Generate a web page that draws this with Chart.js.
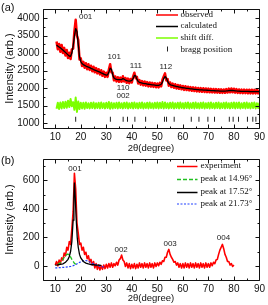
<!DOCTYPE html>
<html>
<head>
<meta charset="utf-8">
<script src="https://cdn.jsdelivr.net/npm/chart.js@4.4.0/dist/chart.umd.min.js"></script>
<style>
html, body { margin: 0; padding: 0; background: #fff; }
#wrap { position: relative; width: 268px; height: 305px; overflow: hidden; }
#chartA { position: absolute; left: 0; top: 0; }
#chartB { position: absolute; left: 0; top: 150px; }
</style>
</head>
<body>
<div id="wrap">
  <canvas id="chartA" width="268" height="156"></canvas>
  <canvas id="chartB" width="268" height="155"></canvas>
</div>
<script>
// ---- panel (a) : refinement ----
const angA = [10.5,11,11.5,12,12.5,13,13.5,14,14.5,15,15.5,16,16.5,17,17.5,18,18.5,19,19.5,20,
  20.5,21,21.5,22,22.5,23,23.5,24,24.5,25,25.5,26,26.5,27,27.5,28,28.5,29,29.5,30,
  30.5,31,31.5,32,32.5,33,33.5,34,34.5,35,35.5,36,36.5,37,37.5,38,38.5,39,39.5,40,
  40.5,41,41.5,42,42.5,43,43.5,44,44.5,45,45.5,46,46.5,47,47.5,48,48.5,49,49.5,50,
  50.5,51,51.5,52,52.5,53,53.5,54,54.5,55,55.5,56,56.5,57,57.5,58,58.5,59,59.5,60,
  60.5,61,61.5,62,62.5,63,63.5,64,64.5,65,65.5,66,66.5,67,67.5,68,68.5,69,69.5,70,
  70.5,71,71.5,72,72.5,73,73.5,74,74.5,75,75.5,76,76.5,77,77.5,78,78.5,79,79.5,80,
  80.5,81,81.5,82,82.5,83,83.5,84,84.5,85,85.5,86,86.5,87,87.5,88,88.5,89,89.5,90];

const observedA = [3330,3110,3260,3040,3230,3000,3150,2930,3090,2860,3010,2830,
  3110,3130,3620,3950,3500,3380,2820,2850,
  2630,2750,2580,2710,2540,2680,2520,2640,2480,2610,2450,2570,2420,2540,2390,2510,2350,2470,2320,2440,
  2320,2530,2680,2450,2440,2220,2330,2190,2310,2180,2300,2180,2340,2190,2290,2150,2270,2140,2260,2160,
  2330,2440,2280,2320,2130,2230,2100,2200,2080,2190,2070,2170,2050,2160,2045,2150,2035,2140,2025,2130,
  2020,2150,2050,2240,2330,2420,2220,2260,2070,2160,2030,2130,2010,2110,1990,2090,1980,2080,1965,2060,
  1950,2055,1945,2040,1935,2030,1925,2020,1915,2015,1905,2005,1900,2000,1895,1995,1890,1990,1885,1985,
  1880,1980,1878,1975,1872,1972,1870,1968,1866,1965,1862,1962,1865,1970,1872,1985,1880,1990,1880,1982,
  1870,1970,1862,1962,1860,1958,1856,1958,1855,1955,1852,1955,1850,1952,1850,1950,1848,1952,1850,1950];

const calculatedA = [3230,3200,3175,3150,3120,3090,3055,3020,2985,2950,2915,2910,
  3000,3200,3480,3700,3620,3250,2900,2760,
  2700,2670,2650,2630,2615,2600,2585,2565,2550,2530,2515,2500,2485,2470,2455,2435,2420,2400,2385,2370,
  2380,2450,2570,2540,2380,2290,2265,2250,2245,2240,2240,2245,2270,2255,2230,2215,2205,2200,2205,2220,
  2270,2360,2350,2250,2190,2165,2155,2145,2135,2130,2125,2115,2110,2105,2100,2095,2090,2085,2080,2075,
  2080,2090,2110,2170,2270,2330,2290,2200,2130,2100,2085,2075,2065,2055,2045,2040,2030,2025,2015,2010,
  2005,2000,1995,1990,1985,1980,1975,1970,1965,1962,1958,1955,1952,1950,1948,1945,1942,1940,1938,1935,
  1933,1930,1928,1926,1924,1922,1920,1918,1916,1915,1914,1913,1915,1918,1922,1928,1932,1935,1932,1928,
  1922,1918,1915,1912,1910,1909,1908,1907,1906,1905,1904,1903,1902,1901,1900,1900,1900,1900,1900,1900];

const shiftDiffA = [1410,1580,1400,1590,1420,1600,1430,1610,1440,1640,1460,1690,
  1480,1600,1380,1730,1320,1620,1400,1580,
  1420,1580,1410,1590,1430,1570,1420,1580,1430,1590,1420,1570,1430,1580,1420,1590,1430,1570,1420,1580,
  1430,1600,1410,1580,1420,1570,1430,1580,1420,1590,1430,1570,1420,1580,1430,1590,1420,1570,1430,1580,
  1420,1590,1430,1570,1420,1580,1430,1590,1420,1570,1430,1580,1420,1590,1430,1570,1420,1580,1430,1590,
  1420,1580,1430,1600,1420,1590,1430,1570,1420,1580,1430,1590,1420,1570,1430,1580,1420,1590,1430,1570,
  1420,1580,1430,1590,1420,1570,1430,1580,1420,1590,1430,1570,1420,1580,1430,1590,1420,1570,1430,1580,
  1420,1590,1430,1570,1420,1580,1430,1590,1420,1570,1430,1580,1420,1590,1430,1570,1420,1580,1430,1590,
  1420,1580,1430,1590,1420,1570,1430,1580,1420,1590,1430,1570,1420,1580,1430,1590,1420,1570,1430,1580];

const braggA = [18.0,31.6,36.6,38.3,41.2,45.4,52.8,53.6,56.6,63.3,66.3,69.8,72.4,78.2,79.7,81.8,85.3,87.4,88.6];
const braggLevel = 1110;

const peakTextA = ["001","101","110","002","111","112"];
const peakAngA  = [21.9, 33.1, 36.6, 36.6, 41.6, 53.3];
const peakIntA  = [4045, 2900, 2020, 1780, 2635, 2615];

const legendA = ["observed", "calculated", "shift diff.", "bragg position"];
const yTicksA = [1000,1500,2000,2500,3000,3500,4000];
const yMinorA = [1250,1750,2250,2750,3250,3750,4250];

// ---- panel (b) : peak fitting ----
const angB = [10,10.5,11,11.5,12,12.5,13,13.5,14,14.5,15,
  15.5,16,16.5,17,17.5,18,18.5,19,19.5,20,
  20.5,21,21.5,22,22.5,23,23.5,24,24.5,25,
  25.5,26,26.5,27,27.5,28,28.5,29,29.5,30,
  30.5,31,31.5,32,32.5,33,33.5,34,34.5,35,
  35.5,36,36.5,37,37.5,38,38.5,39,39.5,40,
  40.5,41,41.5,42,42.5,43,43.5,44,44.5,45,
  45.5,46,46.5,47,47.5,48,48.5,49,49.5,50,
  50.5,51,51.5,52,52.5,53,53.5,54,54.5,55,
  55.5,56,56.5,57,57.5,58,58.5,59,59.5,60,
  60.5,61,61.5,62,62.5,63,63.5,64,64.5,65,
  65.5,66,66.5,67,67.5,68,68.5,69,69.5,70,
  70.5,71,71.5,72,72.5,73,73.5,74,74.5,75,
  75.5,76,76.5,77,77.5,78,78.5,79,79.5,80];

const experimentB = [5,30,0,40,15,55,40,90,70,130,110,
  170,150,260,380,650,540,300,230,150,160,
  110,130,80,95,50,70,25,45,5,30,
  -15,15,-25,5,-30,0,-25,5,-20,10,
  -15,15,-10,20,-10,15,0,25,5,40,
  50,75,40,30,-5,20,-15,15,-20,10,
  -15,15,-20,10,-15,20,-10,15,-15,20,
  -10,15,-15,20,-10,15,-15,20,-5,20,
  0,25,10,35,30,60,60,95,115,80,
  60,45,25,30,5,20,-10,15,-15,15,
  -15,20,-10,15,-15,20,-10,15,-15,20,
  -10,15,-15,20,-10,15,-15,20,-10,15,
  -10,20,0,25,15,40,45,80,110,130,
  150,120,80,60,30,30,5,15,-5,5];

const peak1Ang = [11,12,13,14,14.5,14.96,15.5,16,16.5,17,17.5,18,18.5];
const peak1Val = [8,22,45,70,79,82,76,62,45,30,18,10,5];
const peak2Ang = [10,11,12,13,14,15,15.5,16,16.5,17,17.3,17.52,17.8,18.2,18.6,19,19.5,20,21,22,23,24,25,26,27,28];
const peak2Val = [4,6,9,14,24,45,65,100,170,320,480,585,490,330,200,130,80,55,30,19,13,9,7,5,4,3];
const peak3Ang = [10,12,14,16,17,18,19,20,21,21.73,22.5,23.5,24.5,25.5,26.5,27.5,28.5,29.5];
const peak3Val = [-15,-13,-10,-5,0,8,18,28,35,37,35,27,18,10,3,-3,-7,-10];

const peakTextB = ["001","002","003","004"];
const peakAngB  = [17.7, 35.8, 55.0, 75.9];
const peakIntB  = [681, 112, 156, 194];

const legendB = ["experiment", "peak at 14.96\u00b0", "peak at 17.52\u00b0", "peak at 21.73\u00b0"];
const yTicksB = [0,200,400,600];
const yMinorB = [-100,100,300,500,700];

const xTicks = [10,20,30,40,50,60,70,80,90];
const xMinor = [5,15,25,35,45,55,65,75,85];

const SANS = "'Liberation Sans', Arial, sans-serif";
const SERIF = "'Liberation Serif', 'Times New Roman', serif";
const GREEN_FIT = '#20c020';

function pts(xs, ys) { return xs.map((x, i) => ({ x: x, y: ys[i] })); }

// frame, inward ticks on all four sides, panel tag
const framePlugin = {
  id: 'frameTicks',
  afterDraw(chart, args, o) {
    const ctx = chart.ctx, a = chart.chartArea;
    const sx = chart.scales.x, sy = chart.scales.y;
    ctx.save();
    ctx.strokeStyle = '#111';
    ctx.lineWidth = 1;
    ctx.beginPath();
    const L = Math.round(a.left) + 0.5, R = Math.round(a.right) + 0.5;
    const T = Math.round(a.top) + 0.5, B = Math.round(a.bottom) + 0.5;
    ctx.rect(L, T, R - L, B - T);
    function vt(v, len) {
      const p = Math.round(sx.getPixelForValue(v)) + 0.5;
      ctx.moveTo(p, B); ctx.lineTo(p, B - len);
      ctx.moveTo(p, T); ctx.lineTo(p, T + len);
    }
    function ht(v, len) {
      const p = Math.round(sy.getPixelForValue(v)) + 0.5;
      if (p < T || p > B) return;
      ctx.moveTo(L, p); ctx.lineTo(L + len, p);
      ctx.moveTo(R, p); ctx.lineTo(R - len, p);
    }
    o.xMajor.forEach(v => vt(v, 4));
    o.xMinor.forEach(v => vt(v, 2));
    o.yMajor.forEach(v => ht(v, 4));
    o.yMinor.forEach(v => ht(v, 2));
    ctx.stroke();
    ctx.fillStyle = '#111';
    ctx.font = '11px ' + SANS;
    ctx.textBaseline = 'middle';
    ctx.fillText(o.tag, o.tagX, o.tagY);
    ctx.restore();
  }
};

// peak index labels placed in data coordinates
const peakLabelPlugin = {
  id: 'peakLabels',
  afterDraw(chart, args, o) {
    const ctx = chart.ctx;
    ctx.save();
    ctx.fillStyle = '#222';
    ctx.font = '8px ' + SANS;
    ctx.textAlign = 'center';
    ctx.textBaseline = 'middle';
    o.text.forEach((t, i) => {
      ctx.fillText(t, chart.scales.x.getPixelForValue(o.ang[i]), chart.scales.y.getPixelForValue(o.val[i]));
    });
    ctx.restore();
  }
};

const boxLegendPlugin = {
  id: 'boxLegend',
  afterDraw(chart, args, o) {
    const ctx = chart.ctx;
    ctx.save();
    ctx.font = '9px ' + SERIF;
    ctx.textBaseline = 'middle';
    o.items.forEach((it, i) => {
      const y = o.rows[i];
      ctx.strokeStyle = it.color;
      ctx.lineWidth = it.width;
      ctx.setLineDash(it.dash || []);
      ctx.beginPath();
      if (it.tick) {
        ctx.moveTo(o.tickX, y - 3); ctx.lineTo(o.tickX, y + 2);
      } else {
        ctx.moveTo(o.x0, y + 0.5); ctx.lineTo(o.x1, y + 0.5);
      }
      ctx.stroke();
      ctx.setLineDash([]);
      ctx.fillStyle = '#111';
      ctx.fillText(it.text, o.tx, y);
    });
    ctx.restore();
  }
};

function axes(yMin, yMax, yTicks, xH, titleB) {
  return {
    x: {
      type: 'linear', min: 5, max: 90,
      afterBuildTicks: s => { s.ticks = xTicks.map(v => ({ value: v })); },
      afterFit: s => { s.height = xH; },
      grid: { display: false, drawTicks: false },
      border: { display: false },
      ticks: { padding: 3, color: '#111', autoSkip: false, maxRotation: 0, font: { family: SANS, size: 10 }, callback: v => String(v) },
      title: { display: true, text: '2\u03b8(degree)', color: '#111', font: { family: SANS, size: 9.5 }, padding: { top: 0, bottom: titleB } }
    },
    y: {
      type: 'linear', min: yMin, max: yMax,
      afterBuildTicks: s => { s.ticks = yTicks.map(v => ({ value: v })); },
      afterFit: s => { s.width = 42.5; },
      grid: { display: false, drawTicks: false },
      border: { display: false },
      ticks: { padding: 3, color: '#111', font: { family: SANS, size: 10 }, callback: v => String(v) },
      title: { display: true, text: 'Intensity (arb.)', color: '#111', font: { family: SANS, size: 11 }, padding: { top: 3, bottom: 0 } }
    }
  };
}

new Chart(document.getElementById('chartA'), {
  type: 'scatter',
  data: {
    datasets: [
      { label: legendA[1], data: pts(angA, calculatedA), showLine: true, borderColor: '#000', borderWidth: 1.3, pointRadius: 0, borderJoinStyle: 'round', order: 0 },
      { label: legendA[3], data: braggA.map(x => ({ x: x, y: braggLevel })), pointStyle: 'line', rotation: 90, pointRadius: 2.5, borderColor: '#222', borderWidth: 1, order: 1 },
      { label: legendA[0], data: pts(angA, observedA), showLine: true, borderColor: '#ff0000', borderWidth: 2.5, pointRadius: 0, borderJoinStyle: 'round', order: 2 },
      { label: legendA[2], data: pts(angA, shiftDiffA), showLine: true, borderColor: '#7cff00', borderWidth: 2, pointRadius: 0, borderJoinStyle: 'round', order: 3 }
    ]
  },
  options: {
    responsive: false, animation: false,
    layout: { padding: { top: 1, right: 6, left: 0, bottom: 0 } },
    scales: axes(860, 4260, yTicksA, 28, 2.3),
    plugins: {
      legend: { display: false }, tooltip: { enabled: false },
      frameTicks: { xMajor: xTicks, xMinor: xMinor, yMajor: yTicksA, yMinor: yMinorA, tag: '(a)', tagX: 1, tagY: 8 },
      peakLabels: { text: peakTextA, ang: peakAngA, val: peakIntA },
      boxLegend: {
        x0: 156, x1: 178, tx: 180.5, tickX: 167.5, rows: [14.5, 26, 37.5, 49.5],
        items: [
          { text: legendA[0], color: '#ff0000', width: 1.5 },
          { text: legendA[1], color: '#000', width: 1.5 },
          { text: legendA[2], color: '#7cff00', width: 1.5 },
          { text: legendA[3], color: '#222', width: 1, tick: true }
        ]
      }
    }
  },
  plugins: [framePlugin, peakLabelPlugin, boxLegendPlugin]
});

new Chart(document.getElementById('chartB'), {
  type: 'scatter',
  data: {
    datasets: [
      { label: legendB[2], data: pts(peak2Ang, peak2Val), showLine: true, borderColor: '#000', borderWidth: 1.3, pointRadius: 0, order: 0 },
      { label: legendB[1], data: pts(peak1Ang, peak1Val), showLine: true, borderColor: GREEN_FIT, borderWidth: 1.3, borderDash: [4, 2], pointRadius: 0, order: 1 },
      { label: legendB[3], data: pts(peak3Ang, peak3Val), showLine: true, borderColor: '#2040ff', borderWidth: 1.2, borderDash: [2, 1.5], pointRadius: 0, order: 1 },
      { label: legendB[0], data: pts(angB, experimentB), showLine: true, borderColor: '#ff0000', borderWidth: 1.6, pointRadius: 0, borderJoinStyle: 'round', order: 2 }
    ]
  },
  options: {
    responsive: false, animation: false,
    layout: { padding: { top: 3, right: 6, left: 0, bottom: 0 } },
    scales: axes(-100, 750, yTicksB, 25, 1.3),
    plugins: {
      legend: { display: false }, tooltip: { enabled: false },
      frameTicks: { xMajor: xTicks, xMinor: xMinor, yMajor: yTicksB, yMinor: yMinorB, tag: '(b)', tagX: 1, tagY: 11 },
      peakLabels: { text: peakTextB, ang: peakAngB, val: peakIntB },
      boxLegend: {
        x0: 177, x1: 197.5, tx: 200.5, tickX: 187, rows: [16, 29, 42, 53.5],
        items: [
          { text: legendB[0], color: '#ff0000', width: 1.5 },
          { text: legendB[1], color: GREEN_FIT, width: 1.4, dash: [4, 2] },
          { text: legendB[2], color: '#000', width: 1.5 },
          { text: legendB[3], color: '#2040ff', width: 1.2, dash: [2, 1.5] }
        ]
      }
    }
  },
  plugins: [framePlugin, peakLabelPlugin, boxLegendPlugin]
});
</script>
</body>
</html>
